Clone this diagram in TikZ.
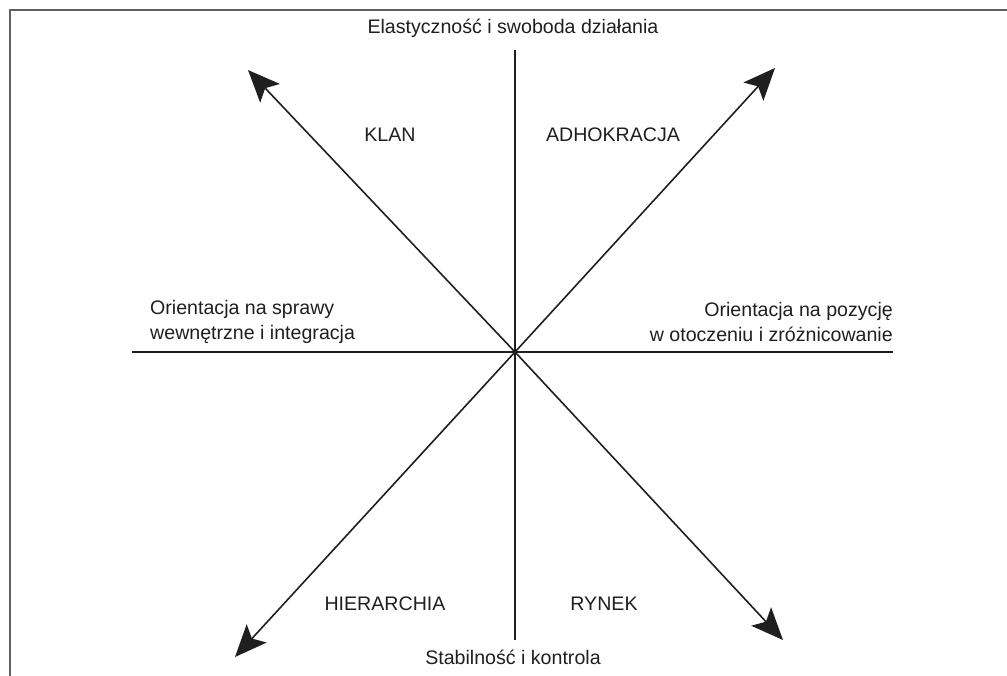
\documentclass[tikz,border=0pt]{standalone}
\usepackage{fontspec}
\setmainfont{Liberation Sans}
\usetikzlibrary{arrows.meta}
\begin{document}
\begin{tikzpicture}[x=1pt,y=-1pt,
  axis/.style={line width=1.6pt, draw=black!88},
  arrowline/.style={axis, -{Stealth[length=32pt,width=27pt,inset=7pt]}},
  lbl/.style={font=\fontsize{19.6}{25}\selectfont, text=black!88, inner sep=0pt},
  frameline/.style={line width=2pt, draw=black!62}]
\useasboundingbox (0,0) rectangle (1007,676);

% open frame: top and left edges
\draw[frameline] (10,676) -- (10,10) -- (1007,10);

% axes
\coordinate (c) at (515,352);
\coordinate (vtop) at (515,50);
\coordinate (vbot) at (515,640);
\coordinate (hleft) at (132,352);
\coordinate (hright) at (893,352);
\draw[axis] (vtop) -- (vbot);
\draw[axis] (hleft) -- (hright);

% diagonal arrows
\coordinate (tl) at (248,70);
\coordinate (tr) at (775,68);
\coordinate (bl) at (235,657);
\coordinate (br) at (783,640);
\draw[arrowline] (c) -- (tl);
\draw[arrowline] (c) -- (tr);
\draw[arrowline] (c) -- (bl);
\draw[arrowline] (c) -- (br);

% axis labels
\node[lbl] (flex) at (513,28) {Elastyczność i swoboda działania};
\node[lbl] (stab) at (513,657) {Stabilność i kontrola};
\node[lbl, align=left, anchor=west] (internal) at (150,322) {Orientacja na sprawy\\wewnętrzne i integracja};
\node[lbl, align=right, anchor=east] (external) at (893,322) {Orientacja na pozycję\\w otoczeniu i zróżnicowanie};

% quadrant labels
\node[lbl] (klan) at (390,135) {KLAN};
\node[lbl] (adho) at (613,135) {ADHOKRACJA};
\node[lbl] (hier) at (385,604) {HIERARCHIA};
\node[lbl] (rynek) at (604,604) {RYNEK};
\end{tikzpicture}
\end{document}
